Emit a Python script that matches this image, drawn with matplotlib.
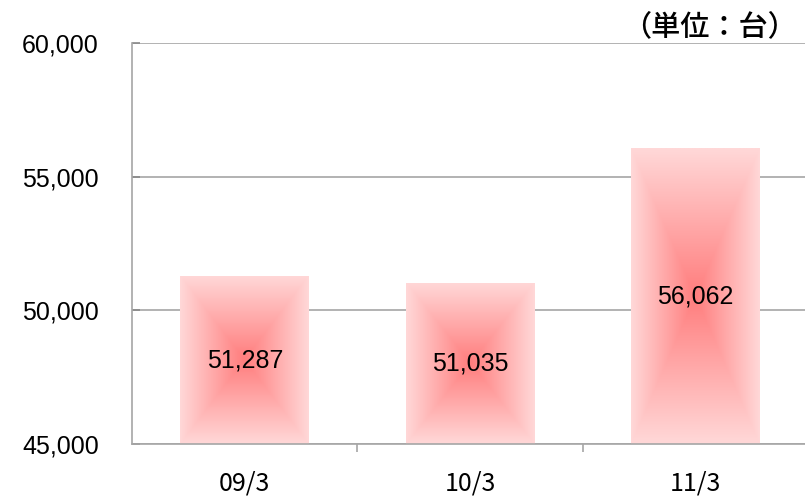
import numpy as np
import matplotlib
matplotlib.use('Agg')
import matplotlib.pyplot as plt
from matplotlib.ticker import FuncFormatter

plt.rcParams['font.family'] = ['Liberation Sans', 'Noto Sans CJK JP', 'DejaVu Sans']

# データ
categories = ['09/3', '10/3', '11/3']
values = [51287, 51035, 56062]
y_ticks = [45000, 50000, 55000, 60000]
unit_label = '（単位：台）'

center_color = np.array([255, 125, 125]) / 255
edge_color = np.array([255, 216, 216]) / 255
grid_color = '#a6a6a6'

fig = plt.figure(figsize=(8.05, 4.99), dpi=100)
ax = fig.add_axes([0.164, 0.110, 0.840, 0.804])

x = np.arange(len(categories))
bars = ax.bar(x, [v - y_ticks[0] for v in values], bottom=y_ticks[0],
              width=0.57, color='none', edgecolor='none', zorder=2)

# 矩形グラデーション（中心が濃い赤、外側が薄いピンク）
n = 200
u = np.linspace(-1, 1, n)
uu, vv = np.meshgrid(u, u)
t = np.maximum(np.abs(uu), np.abs(vv))
grad = center_color[None, None, :] * (1 - t[..., None]) + edge_color[None, None, :] * t[..., None]

for bar, val in zip(bars, values):
    x0 = bar.get_x()
    x1 = x0 + bar.get_width()
    y0 = bar.get_y()
    y1 = y0 + bar.get_height()
    im = ax.imshow(grad, extent=(x0, x1, y0, y1), aspect='auto',
                   interpolation='bilinear', zorder=2)
    im.set_clip_path(bar)
    ax.text((x0 + x1) / 2, (y0 + y1) / 2, f'{val:,}', ha='center', va='center',
            fontsize=18, color='black', zorder=3)

ax.set_xlim(-0.5, len(categories) - 0.5)
ax.set_ylim(y_ticks[0], y_ticks[-1])
ax.set_yticks(y_ticks)
ax.yaxis.set_major_formatter(FuncFormatter(lambda v, p: f'{int(v):,}'))
ax.yaxis.grid(True, color=grid_color, linewidth=1.2)
ax.set_axisbelow(True)

ax.set_xticks(x)
ax.set_xticklabels(categories, fontsize=18, family=['Noto Sans CJK JP', 'DejaVu Sans'])
ax.set_xticks(x[:-1] + 0.5, minor=True)
ax.tick_params(axis='x', which='major', length=0, pad=19)
ax.tick_params(axis='x', which='minor', length=6, direction='out', color=grid_color, width=1.2)
ax.tick_params(axis='y', which='major', length=6, direction='in', color='#888888',
               width=1.2, labelsize=18, pad=24)

for side in ['top', 'right']:
    ax.spines[side].set_visible(False)
for side in ['left', 'bottom']:
    ax.spines[side].set_color(grid_color)
    ax.spines[side].set_linewidth(1.2)

fig.text(0.990, 0.978, unit_label, ha='right', va='top', fontsize=21,
         family=['Noto Sans CJK JP', 'DejaVu Sans'], weight='medium', zorder=5)

fig.savefig('out.png', dpi=100)
